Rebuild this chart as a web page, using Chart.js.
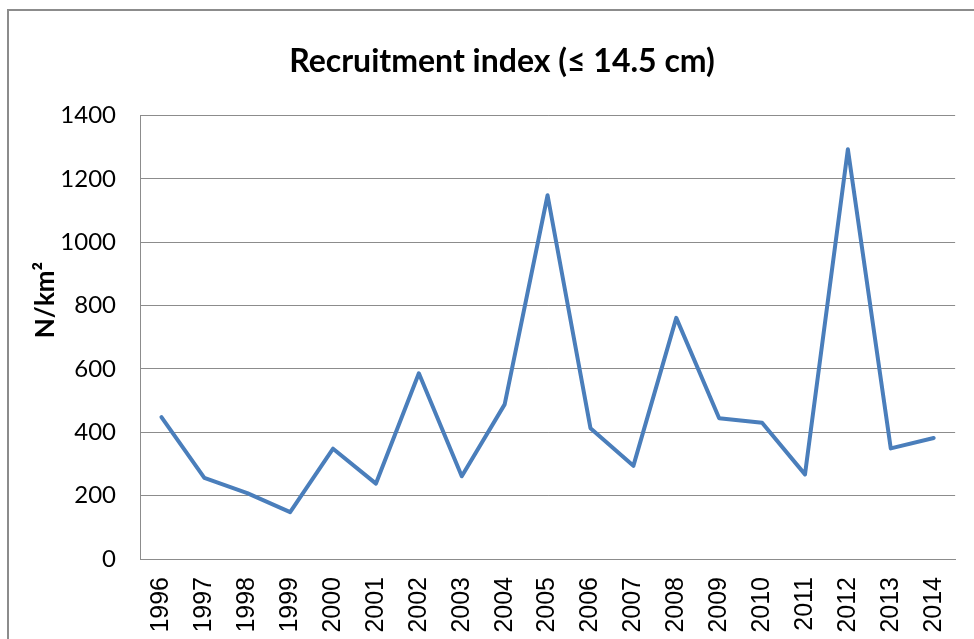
<!DOCTYPE html>
<html>
<head>
<meta charset="utf-8">
<script src="https://cdn.jsdelivr.net/npm/chart.js@4.4.6/dist/chart.umd.min.js"></script>
<style>
  html, body { margin: 0; padding: 0; background: #fff; overflow: hidden; }
  #frame {
    position: absolute; left: 7px; top: 9px; width: 1000px; height: 700px;
    border: 2px solid #8c8c8c;
  }
  #wrap { position: absolute; left: 0; top: 0; width: 974px; height: 639px; }
</style>
</head>
<body>
<div id="frame"></div>
<div id="wrap"><canvas id="chart"></canvas></div>
<script>
/* chart data */
const years = ["1996", "1997", "1998", "1999", "2000", "2001", "2002", "2003", "2004", "2005",
               "2006", "2007", "2008", "2009", "2010", "2011", "2012", "2013", "2014"];
const recruitment = [448, 256, 208, 148, 348, 238, 586, 261, 488, 1148,
                     413, 294, 761, 444, 430, 267, 1293, 349, 382];
const yTicks = [0, 200, 400, 600, 800, 1000, 1200, 1400];

const titleText = "Recruitment index (\u2264 14.5 cm)";
const yTitleText = "N/km\u00b2";

/* y axis title drawn by hand so it can sit where the original has it */
const yTitlePlugin = {
  id: "yTitle",
  afterDraw(chart) {
    const c = chart.ctx;
    c.save();
    c.translate(46, 300);
    c.rotate(-Math.PI / 2);
    c.font = "bold 26px Lato, 'Noto Sans', sans-serif";
    c.fillStyle = "#000";
    c.textAlign = "center";
    c.textBaseline = "middle";
    c.fillText(yTitleText, 0, 0);
    c.restore();
  }
};

const ctx = document.getElementById("chart");

new Chart(ctx, {
  type: "line",
  data: {
    labels: years,
    datasets: [{
      label: "Recruitment",
      data: recruitment,
      borderColor: "#4a7ebb",
      backgroundColor: "#4a7ebb",
      borderWidth: 4,
      borderJoinStyle: "round",
      borderCapStyle: "round",
      pointRadius: 0,
      tension: 0,
      fill: false
    }]
  },
  options: {
    responsive: true,
    maintainAspectRatio: false,
    animation: false,
    layout: { padding: { left: 42, right: 12, top: 0, bottom: 0 } },
    plugins: {
      legend: { display: false },
      tooltip: { enabled: false },
      title: {
        display: true,
        text: titleText,
        color: "#000",
        font: { family: "Lato, 'Noto Sans', sans-serif", size: 32, weight: "bold" },
        padding: { top: 42, bottom: 35 }
      }
    },
    scales: {
      x: {
        offset: true,
        grid: { display: false },
        border: { display: true, color: "#8c8c8c", width: 1 },
        ticks: {
          color: "#000",
          font: { family: "'Liberation Sans', Arial, sans-serif", size: 25 },
          minRotation: 90,
          maxRotation: 90,
          padding: 10,
          autoSkip: false
        },
        afterFit(scale) { scale.height = 80; }
      },
      y: {
        min: 0,
        max: 1400,
        afterBuildTicks(scale) { scale.ticks = yTicks.map(v => ({ value: v })); },
        grid: { color: "#8c8c8c", lineWidth: 1, drawTicks: false },
        border: { display: true, color: "#8c8c8c", width: 1 },
        ticks: {
          color: "#000",
          font: { family: "Lato, 'Noto Sans', sans-serif", size: 24 },
          padding: 24,
          callback: v => String(v)
        },
        afterFit(scale) { scale.width = 98; }
      }
    }
  },
  plugins: [yTitlePlugin]
});
</script>
</body>
</html>
